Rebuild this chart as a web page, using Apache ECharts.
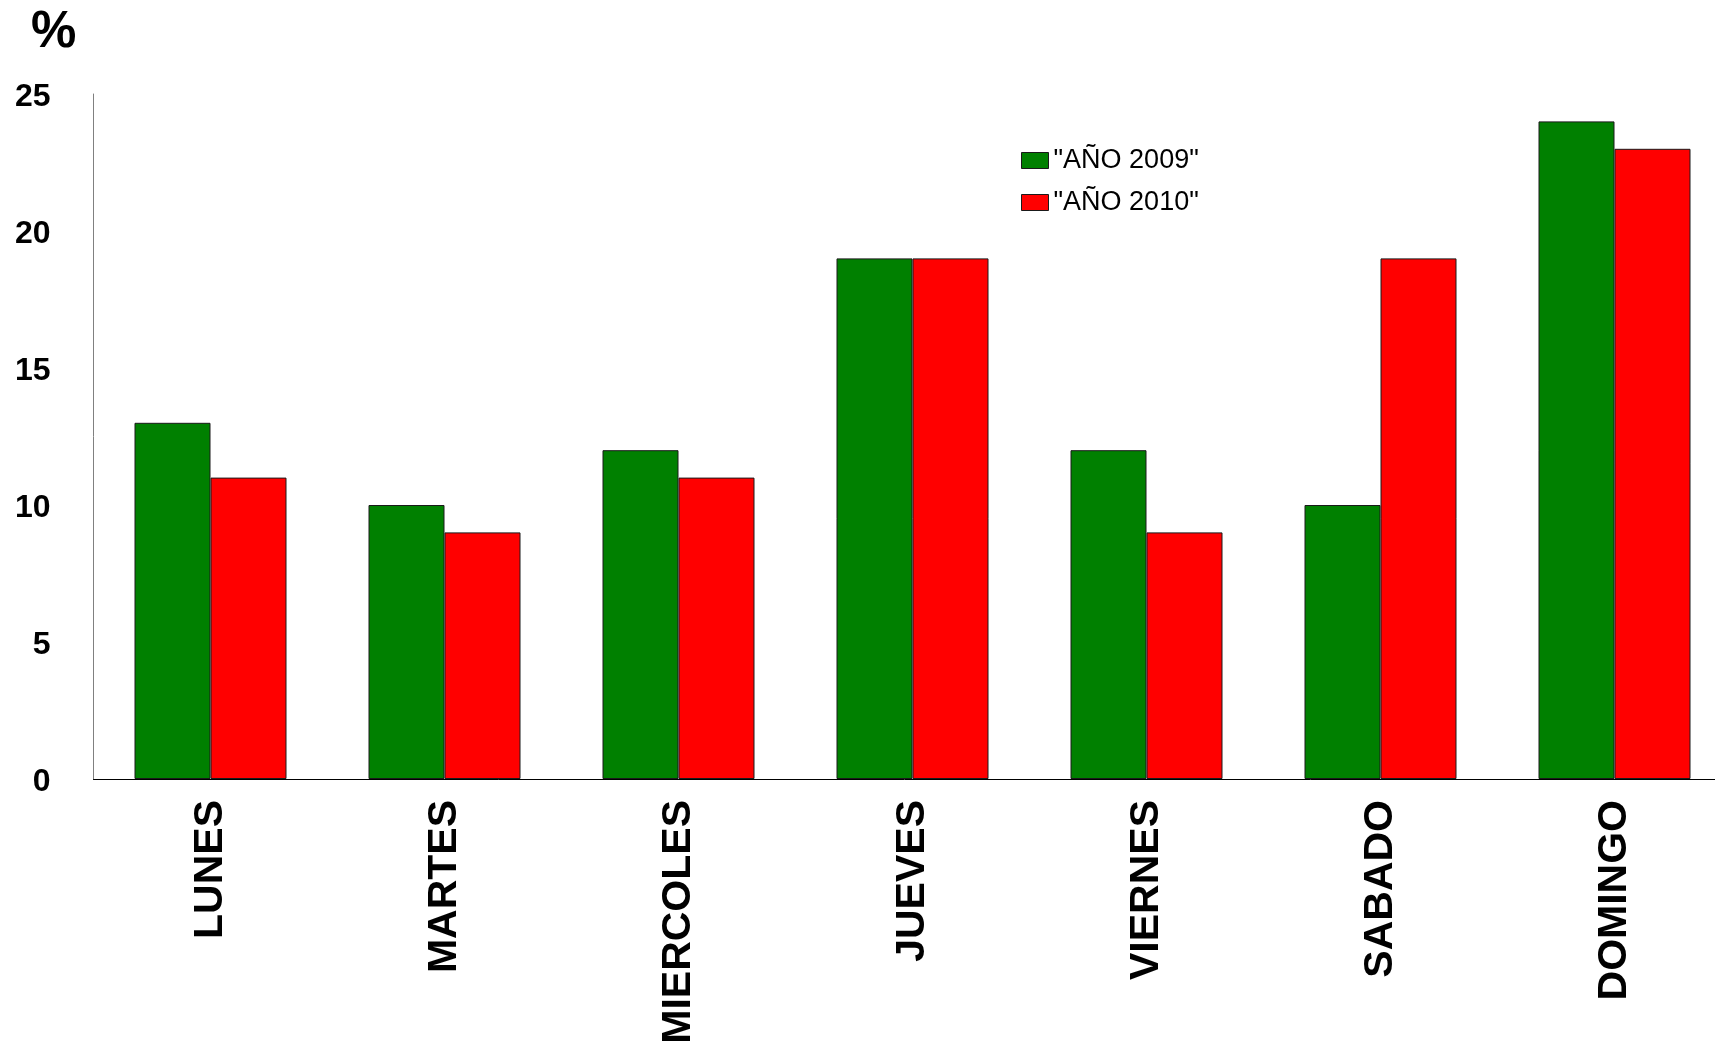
<!DOCTYPE html>
<html>
<head>
<meta charset="utf-8">
<script src="https://cdn.jsdelivr.net/npm/echarts@6/dist/echarts.min.js"></script>
<style>
html,body{margin:0;padding:0;background:#fff;overflow:hidden;}
#chart{width:1715px;height:1049px;}
</style>
</head>
<body>
<div id="chart"></div>
<script>
var categories = ['LUNES','MARTES','MIERCOLES','JUEVES','VIERNES','SABADO','DOMINGO'];
var series2009 = [13, 10, 12, 19, 12, 10, 24];
var series2010 = [11, 9, 11, 19, 9, 19, 23];
var seriesNames = ['"AÑO 2009"', '"AÑO 2010"'];
var yTicks = [0, 5, 10, 15, 20, 25];

var font = '"Liberation Sans", Arial, Helvetica, sans-serif';
var chart = echarts.init(document.getElementById('chart'));
chart.setOption({
  animation: false,
  backgroundColor: '#ffffff',
  title: {
    text: '%', left: 26, top: 2,
    textStyle: { fontFamily: font, fontSize: 51, fontWeight: 'bold', color: '#000' }
  },
  legend: {
    orient: 'vertical', left: 1021, top: 147, padding: 0,
    icon: 'rect',
    itemWidth: 27, itemHeight: 16, itemGap: 15,
    textStyle: { fontFamily: font, fontSize: 27, color: '#000', padding: [0,0,0,0], lineHeight: 24 },
    itemStyle: { borderColor: '#1a1a1a', borderWidth: 1 },
    data: seriesNames
  },
  grid: { left: 93.5, top: 94, bottom: 270, width: 1638, outerBoundsMode: 'none', containLabel: false },
  xAxis: {
    type: 'category', data: categories,
    axisLine: { lineStyle: { color: '#000', width: 1 } },
    axisTick: { show: false },
    axisLabel: { rotate: 90, margin: 21, interval: 0, fontFamily: font, fontSize: 41, fontWeight: 'bold', color: '#000' }
  },
  yAxis: {
    type: 'value', min: 0, max: 25, interval: 5,
    axisLine: { show: true, lineStyle: { color: '#808080', width: 1 } },
    axisTick: { show: false },
    splitLine: { show: false },
    axisLabel: { margin: 43, fontFamily: font, fontSize: 32, fontWeight: 'bold', color: '#000',
      rich: { t: { fontFamily: font, fontSize: 32, fontWeight: 'bold', color: '#000', padding: [6,0,0,0] } },
      formatter: function (v) { return yTicks.indexOf(v) >= 0 ? '{t|' + v + '}' : ''; } }
  },
  series: [
    { name: seriesNames[0], type: 'bar', data: series2009, barWidth: 76, barGap: '0%',
      itemStyle: { color: '#008000', borderColor: '#1a1a1a', borderWidth: 1 } },
    { name: seriesNames[1], type: 'bar', data: series2010, barWidth: 76, barGap: '0%',
      itemStyle: { color: '#ff0000', borderColor: '#1a1a1a', borderWidth: 1 } }
  ]
});
</script>
</body>
</html>
